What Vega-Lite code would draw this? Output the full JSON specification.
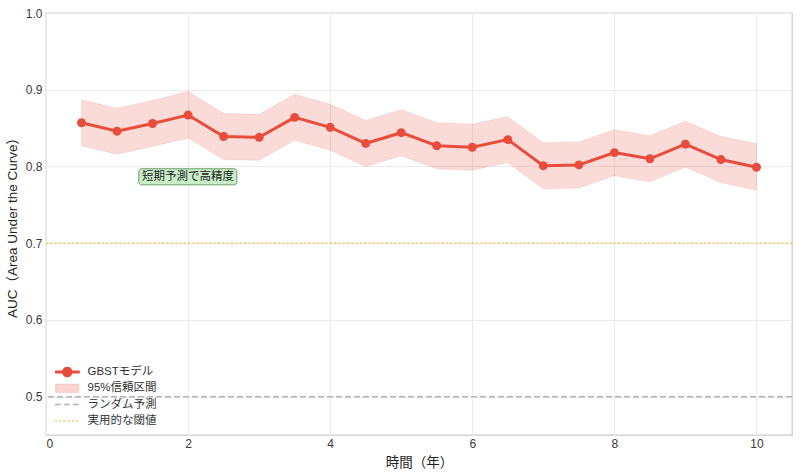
{
  "$schema": "https://vega.github.io/schema/vega-lite/v6.json",
  "width": 746,
  "height": 422,
  "autosize": {"type": "none"},
  "padding": {"left": 46, "top": 13, "right": 8, "bottom": 41},
  "background": "white",
  "config": {
    "font": "Liberation Sans, Noto Sans CJK JP, sans-serif",
    "view": {"stroke": "#cccccc", "strokeWidth": 1.3},
    "axis": {
      "grid": true, "gridColor": "#ebebeb", "gridWidth": 1,
      "domain": false, "ticks": false,
      "labelFontSize": 12, "labelColor": "#3a3a3a",
      "titleFontSize": 13.5, "titleFontWeight": "normal", "titleColor": "#222222"
    }
  },
  "datasets": {
    "auc": [
      {"t": 0.5, "auc": 0.857, "lower": 0.827, "upper": 0.887},
      {"t": 1.0, "auc": 0.846, "lower": 0.816, "upper": 0.876},
      {"t": 1.5, "auc": 0.856, "lower": 0.826, "upper": 0.886},
      {"t": 2.0, "auc": 0.867, "lower": 0.837, "upper": 0.898},
      {"t": 2.5, "auc": 0.839, "lower": 0.809, "upper": 0.869},
      {"t": 3.0, "auc": 0.838, "lower": 0.808, "upper": 0.868},
      {"t": 3.5, "auc": 0.864, "lower": 0.834, "upper": 0.894},
      {"t": 4.0, "auc": 0.851, "lower": 0.821, "upper": 0.881},
      {"t": 4.5, "auc": 0.830, "lower": 0.800, "upper": 0.860},
      {"t": 5.0, "auc": 0.844, "lower": 0.814, "upper": 0.874},
      {"t": 5.5, "auc": 0.827, "lower": 0.797, "upper": 0.857},
      {"t": 6.0, "auc": 0.825, "lower": 0.795, "upper": 0.855},
      {"t": 6.5, "auc": 0.835, "lower": 0.805, "upper": 0.865},
      {"t": 7.0, "auc": 0.801, "lower": 0.771, "upper": 0.831},
      {"t": 7.5, "auc": 0.802, "lower": 0.772, "upper": 0.832},
      {"t": 8.0, "auc": 0.818, "lower": 0.788, "upper": 0.848},
      {"t": 8.5, "auc": 0.810, "lower": 0.780, "upper": 0.840},
      {"t": 9.0, "auc": 0.829, "lower": 0.799, "upper": 0.859},
      {"t": 9.5, "auc": 0.809, "lower": 0.779, "upper": 0.839},
      {"t": 10.0, "auc": 0.799, "lower": 0.769, "upper": 0.830}
    ],
    "random": [{"y": 0.5, "label": "ランダム予測"}],
    "threshold": [{"y": 0.7, "label": "実用的な閾値"}],
    "note": [
      {"x": 1.306, "x2": 2.686, "y": 0.797, "y2": 0.776, "tx": 2.0, "ty": 0.7865, "text": "短期予測で高精度"}
    ]
  },
  "layer": [
    {
      "data": {"name": "auc"},
      "mark": {"type": "area", "fill": "#e74c3c", "fillOpacity": 0.2, "stroke": "#e74c3c", "strokeOpacity": 0.12, "strokeWidth": 1},
      "encoding": {
        "x": {
          "field": "t", "type": "quantitative",
          "scale": {"domain": [0, 10.5], "nice": false, "zero": false},
          "axis": {"values": [0, 2, 4, 6, 8, 10], "format": "d", "title": "時間（年）", "labelPadding": 3, "titlePadding": 6}
        },
        "y": {
          "field": "lower", "type": "quantitative",
          "scale": {"domain": [0.45, 1.0], "nice": false, "zero": false},
          "axis": {"values": [0.5, 0.6, 0.7, 0.8, 0.9, 1.0], "format": ".1f", "title": "AUC（Area Under the Curve）", "labelPadding": 4, "titlePadding": 6}
        },
        "y2": {"field": "upper"}
      }
    },
    {
      "data": {"name": "random"},
      "mark": {"type": "rule", "strokeWidth": 1.5, "stroke": "#b4b4b4", "strokeDash": [6, 3]},
      "encoding": {"y": {"field": "y", "type": "quantitative"}}
    },
    {
      "data": {"name": "threshold"},
      "mark": {"type": "rule", "strokeWidth": 1.8, "stroke": "#fbc877", "strokeDash": [2, 2.3]},
      "encoding": {"y": {"field": "y", "type": "quantitative"}}
    },
    {
      "data": {"name": "auc"},
      "mark": {"type": "line", "strokeWidth": 3},
      "encoding": {
        "x": {"field": "t", "type": "quantitative"},
        "y": {"field": "auc", "type": "quantitative"},
        "stroke": {
          "datum": "GBSTモデル", "type": "nominal",
          "scale": {
            "domain": ["GBSTモデル", "95%信頼区間", "ランダム予測", "実用的な閾値"],
            "range": ["#e74c3c", "#f6c4bf", "#b4b4b4", "#fbc877"]
          },
          "legend": {
            "title": null,
            "orient": "none",
            "legendX": 9,
            "legendY": 352,
            "padding": 0,
            "symbolSize": 100,
            "symbolStrokeWidth": 2,
            "symbolOffset": 6.5,
            "labelFontSize": 11.5,
            "labelColor": "#333333",
            "labelOffset": 14.5,
            "clipHeight": 14,
            "rowPadding": 2.3,
            "encoding": {
              "symbols": {
                "shape": {"value": {"expr": "datum.value === 'GBSTモデル' ? 'M-2.5,0L2.5,0M-0.75,0A0.75,0.75,0,1,0,0.75,0A0.75,0.75,0,1,0,-0.75,0Z' : datum.value === '95%信頼区間' ? 'M-2.3,-0.8L2.3,-0.8L2.3,0.8L-2.3,0.8Z' : 'M-2.5,0L2.5,0'"}},
                "fill": {"value": {"expr": "datum.value === 'GBSTモデル' ? '#e74c3c' : datum.value === '95%信頼区間' ? '#fad4d0' : 'transparent'"}},
                "strokeDash": {"value": {"expr": "datum.value === 'ランダム予測' ? [6, 3] : datum.value === '実用的な閾値' ? [2, 2.3] : [1, 0]"}},
                "strokeWidth": {"value": {"expr": "datum.value === 'GBSTモデル' ? 3 : datum.value === '95%信頼区間' ? 1 : 1.5"}},
                "opacity": {"value": 1}
              }
            }
          }
        }
      }
    },
    {
      "data": {"name": "auc"},
      "mark": {"type": "point", "filled": true, "fill": "#e74c3c", "opacity": 1, "size": 80, "shape": "circle", "strokeWidth": 0},
      "encoding": {
        "x": {"field": "t", "type": "quantitative"},
        "y": {"field": "auc", "type": "quantitative"}
      }
    },
    {
      "data": {"name": "note"},
      "mark": {"type": "rect", "fill": "#c8efc8", "stroke": "#6f9a6f", "strokeWidth": 1, "cornerRadius": 3},
      "encoding": {
        "x": {"field": "x", "type": "quantitative"},
        "x2": {"field": "x2"},
        "y": {"field": "y", "type": "quantitative"},
        "y2": {"field": "y2"}
      }
    },
    {
      "data": {"name": "note"},
      "mark": {"type": "text", "fontSize": 11.5, "color": "#222222", "font": "Noto Sans CJK JP", "align": "center", "baseline": "middle"},
      "encoding": {
        "x": {"field": "tx", "type": "quantitative"},
        "y": {"field": "ty", "type": "quantitative"},
        "text": {"field": "text"}
      }
    }
  ]
}
